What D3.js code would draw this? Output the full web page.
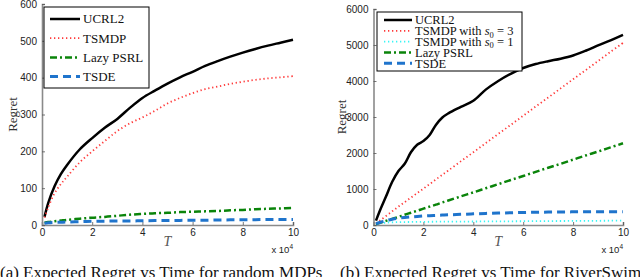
<!DOCTYPE html>
<html>
<head>
<meta charset="utf-8">
<script src="https://cdn.jsdelivr.net/npm/d3@7"></script>
<style>
  body { margin: 0; background: #fff; }
  svg { display: block; }
</style>
</head>
<body>
<div id="chart"></div>
<script>
// dades del gràfic (a): MDP aleatoris, T en unitats de 10^4
let tA = [0.1, 0.25, 0.5, 0.75, 1, 1.5, 2, 2.5, 3, 3.5, 4, 4.5, 5, 5.5, 6, 6.5, 7, 7.5, 8, 8.5, 9, 9.5, 10]
let ucrlA = [22, 60, 105, 138, 163, 205, 236, 264, 288, 318, 345, 365, 384, 401, 416, 432, 445, 457, 468, 478, 487, 495, 503]
let tsmdpA = [20, 48, 86, 111, 131, 170, 200, 228, 255, 276, 292, 310, 330, 345, 358, 369, 376, 383, 389, 394, 398, 401, 404]
let lazyA = [6, 8, 10, 12, 14, 17, 20, 22, 25, 28, 30, 32, 33, 35, 36, 37, 38, 40, 41, 43, 44, 45, 46]
let tsdeA = [5, 6, 7, 7.5, 8, 9, 10, 10.5, 11, 11, 11.5, 12, 12, 12.5, 13, 13, 13.5, 14, 14, 14.5, 15, 15, 15]

// dades del gràfic (b): RiverSwim
let tB = [0.1, 0.25, 0.5, 0.75, 1, 1.25, 1.5, 1.75, 2, 2.25, 2.5, 2.75, 3, 3.5, 4, 4.5, 5, 5.5, 6, 6.5, 7, 7.5, 8, 8.5, 9, 9.5, 10]
let ucrlB = [120, 390, 790, 1200, 1500, 1700, 2020, 2230, 2330, 2500, 2780, 2980, 3100, 3280, 3450, 3760, 4000, 4200, 4360, 4470, 4550, 4620, 4710, 4840, 4990, 5130, 5280]
let tsmdp3B = [50, 120, 250, 380, 510, 635, 760, 885, 1010, 1135, 1265, 1390, 1515, 1770, 2020, 2275, 2530, 2780, 3035, 3290, 3540, 3795, 4050, 4300, 4555, 4810, 5060]
let tsmdp1B = [20, 45, 65, 75, 80, 82, 84, 86, 88, 90, 91, 92, 93, 95, 97, 99, 101, 103, 105, 107, 109, 111, 113, 115, 117, 119, 120]
let lazyB = [25, 60, 115, 170, 225, 285, 340, 395, 455, 510, 565, 625, 680, 795, 905, 1020, 1135, 1250, 1360, 1475, 1590, 1700, 1815, 1930, 2040, 2155, 2270]
let tsdeB = [30, 70, 120, 160, 190, 210, 225, 238, 250, 260, 268, 276, 283, 296, 310, 322, 332, 340, 347, 353, 358, 362, 365, 367, 369, 370, 371]

let xTicks = [0, 2, 4, 6, 8, 10]
let yTicksA = [0, 100, 200, 300, 400, 500, 600]
let yTicksB = [0, 1000, 2000, 3000, 4000, 5000, 6000]

// estils de les sèries
let estils = {
  ucrl: { color: '#000000', width: 2.5, dash: null },
  tsmdp: { color: '#ff3a3a', width: 1.8, dash: '1.3 2.7' },
  tsmdp1: { color: '#38f5f5', width: 1.8, dash: '1.3 2.7' },
  lazy: { color: '#0a840a', width: 2.5, dash: '7 3 2 3' },
  tsde: { color: '#1f74cc', width: 3, dash: '8 5' }
}

let svg = d3.select('#chart')
  .append('svg')
  .attr('width', 640)
  .attr('height', 277)

function grafic(opc) {
  let x = d3.scaleLinear().domain([0, 10]).range([opc.x0, opc.x1])
  let y = d3.scaleLinear().domain([0, opc.yMax]).range([225, opc.yTop])
  let g = svg.append('g')

  let eixX = g.append('g')
    .attr('transform', 'translate(0,225)')
    .call(d3.axisBottom(x).tickValues(xTicks).tickSize(-3).tickPadding(4).tickFormat(d3.format('d')))
  let eixY = g.append('g')
    .attr('transform', `translate(${opc.x0},0)`)
    .call(d3.axisLeft(y).tickValues(opc.yTicks).tickSize(-3).tickPadding(5).tickFormat(d3.format('d')))

  for (let eix of [eixX, eixY]) {
    eix.select('.domain').attr('stroke', '#8a8a8a').attr('stroke-width', 1.6)
    eix.selectAll('.tick line').attr('stroke', '#555').attr('stroke-width', 0.8)
    eix.selectAll('.tick text')
      .attr('fill', '#222')
      .style('font-family', '"Liberation Sans", Arial, sans-serif')
      .style('font-size', '10px')
  }

  // línies
  let linia = d3.line()
    .x((d) => x(d[0]))
    .y((d) => y(d[1]))
    .curve(d3.curveCatmullRom)

  for (let s of opc.series) {
    let e = estils[s.estil]
    g.append('path')
      .datum(s.t.map((t, i) => [t, s.v[i]]))
      .attr('d', linia)
      .attr('fill', 'none')
      .attr('stroke', e.color)
      .attr('stroke-width', e.width)
      .attr('stroke-dasharray', e.dash)
  }

  // etiquetes dels eixos
  g.append('text')
    .attr('transform', `translate(${opc.yLabX},${(225 + opc.yTop) / 2}) rotate(-90)`)
    .attr('text-anchor', 'middle')
    .attr('dy', '0.35em')
    .style('font-family', '"Liberation Serif", "Times New Roman", serif')
    .style('font-size', '13px')
    .attr('fill', '#333')
    .text('Regret')

  g.append('text')
    .attr('x', (opc.x0 + opc.x1) / 2)
    .attr('y', 246)
    .attr('text-anchor', 'middle')
    .style('font-family', '"Liberation Serif", "Times New Roman", serif')
    .style('font-style', 'italic')
    .style('font-size', '14px')
    .attr('fill', '#555')
    .text('T')

  let exp = g.append('text')
    .attr('x', opc.x1)
    .attr('y', 253)
    .attr('text-anchor', 'end')
    .style('font-family', '"Liberation Sans", Arial, sans-serif')
    .style('font-size', '9.5px')
    .attr('fill', '#222')
  exp.append('tspan').text('x 10')
  exp.append('tspan').attr('dy', -4).style('font-size', '6.5px').text('4')

  // llegenda
  let lg = opc.llegenda
  g.append('rect')
    .attr('x', lg.x)
    .attr('y', lg.y)
    .attr('width', lg.w)
    .attr('height', lg.h)
    .attr('fill', '#fff')
    .attr('stroke', '#000')
    .attr('stroke-width', 1)

  opc.series.forEach((s, i) => {
    let e = estils[s.estil]
    let yy = lg.y0 + i * lg.pas
    g.append('line')
      .attr('x1', lg.l0)
      .attr('x2', lg.l1)
      .attr('y1', yy)
      .attr('y2', yy)
      .attr('stroke', e.color)
      .attr('stroke-width', e.width)
      .attr('stroke-dasharray', e.dash)
    let txt = g.append('text')
      .attr('x', lg.l1 + 3)
      .attr('y', yy + 4.3)
      .style('font-family', '"Liberation Serif", "Times New Roman", serif')
      .style('font-size', lg.mida + 'px')
      .attr('fill', '#111')
    if (s.s0 != null) {
      txt.append('tspan').text(s.nom + ' with ')
      txt.append('tspan').style('font-style', 'italic').text('s')
      txt.append('tspan').attr('dy', 2.5).style('font-size', '8.5px').text('0')
      txt.append('tspan').attr('dy', -2.5).text(' = ' + s.s0)
    } else {
      txt.text(s.nom)
    }
  })
}

grafic({
  x0: 42, x1: 293, yMax: 600, yTop: 4, yTicks: yTicksA, yLabX: 12,
  series: [
    { nom: 'UCRL2', estil: 'ucrl', t: tA, v: ucrlA },
    { nom: 'TSMDP', estil: 'tsmdp', t: tA, v: tsmdpA },
    { nom: 'Lazy PSRL', estil: 'lazy', t: tA, v: lazyA },
    { nom: 'TSDE', estil: 'tsde', t: tA, v: tsdeA }
  ],
  llegenda: { x: 44, y: 7, w: 105, h: 81, y0: 19, pas: 19.2, l0: 50, l1: 80, mida: 13 }
})

grafic({
  x0: 373.5, x1: 623, yMax: 6000, yTop: 9, yTicks: yTicksB, yLabX: 341,
  series: [
    { nom: 'UCRL2', estil: 'ucrl', t: tB, v: ucrlB },
    { nom: 'TSMDP', estil: 'tsmdp', t: tB, v: tsmdp3B, s0: 3 },
    { nom: 'TSMDP', estil: 'tsmdp1', t: tB, v: tsmdp1B, s0: 1 },
    { nom: 'Lazy PSRL', estil: 'lazy', t: tB, v: lazyB },
    { nom: 'TSDE', estil: 'tsde', t: tB, v: tsdeB }
  ],
  llegenda: { x: 377, y: 12, w: 145, h: 59, y0: 20, pas: 10.8, l0: 384, l1: 412, mida: 12.5 }
})

// peus de figura
let peus = [
  { x: 0, text: '(a) Expected Regret vs Time for random MDPs' },
  { x: 340, text: '(b) Expected Regret vs Time for RiverSwim' }
]
svg.selectAll('text.peu')
  .data(peus)
  .enter()
  .append('text')
  .attr('class', 'peu')
  .attr('x', (d) => d.x)
  .attr('y', 278)
  .style('font-family', '"Liberation Serif", "Times New Roman", serif')
  .style('font-size', '17px')
  .attr('fill', '#111')
  .text((d) => d.text)
</script>
</body>
</html>
